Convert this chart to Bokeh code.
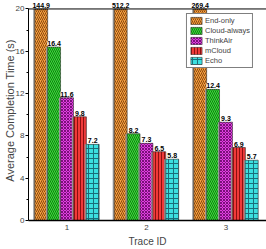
from bokeh.plotting import figure
from bokeh.models import (ColumnDataSource, FixedTicker, LabelSet, Legend, LegendItem,
                          Range1d, LinearAxis, Span)
from bokeh.transform import dodge
from bokeh.embed import file_html
from bokeh.resources import INLINE
from bokeh.core.properties import value

# ---- data ----
traces = [1, 2, 3]
trace_labels = ["1", "2", "3"]
series_names = ["End-only", "Cloud-always", "ThinkAir", "mCloud", "Echo"]
end_only = [144.9, 512.2, 269.4]
cloud_always = [16.4, 8.2, 12.4]
thinkair = [11.6, 7.3, 9.3]
mcloud = [9.8, 6.5, 6.9]
echo = [7.2, 5.8, 5.7]
y_ticks = [0, 4, 8, 12, 16, 20]
y_minor = [2, 6, 10, 14, 18]
y_max = 20

series_values = [end_only, cloud_always, thinkair, mcloud, echo]

# ---- styles ----
fills = ["#F7A040", "#3BE03B", "#E040E0", "#F03A3A", "#3CE0E0"]
hatch_colors = ["#8A4A10", "#127812", "#7A107A", "#8A1010", "#1A6E7A"]
hatches = ["/", "\\", "x", "|", "+"]
hatch_scales = [4, 4, 3, 3, 5]
bar_w = 0.162
FONT = "Liberation Sans"

p = figure(width=266, height=249, output_backend="svg", toolbar_location=None,
           x_range=Range1d(0.516, 3.51), y_range=Range1d(0, y_max * 1.04),
           min_border_left=0, min_border_right=0, min_border_top=0, min_border_bottom=0)

p.xgrid.visible = False
p.ygrid.visible = False
p.outline_line_color = None
p.background_fill_color = "white"
p.border_fill_color = "white"

items = []
for i, (name, vals) in enumerate(zip(series_names, series_values)):
    off = (i - 2) * bar_w
    clipped = [min(v, y_max) for v in vals]
    src = ColumnDataSource(dict(x=traces, top=clipped, ly=clipped,
                                txt=["%.1f" % v for v in vals]))
    # grey shadow edge
    p.vbar(x=dodge("x", off - 0.02, range=p.x_range), top="top", width=bar_w, source=src,
           fill_color="#9A9A9A", line_color=None)
    r = p.vbar(x=dodge("x", off, range=p.x_range), top="top", width=bar_w, source=src,
               fill_color=fills[i], line_color="#333333", line_width=0.6,
               hatch_pattern=hatches[i], hatch_color=hatch_colors[i],
               hatch_scale=hatch_scales[i], hatch_weight=1)
    items.append(LegendItem(label=name, renderers=[r]))
    lbl = LabelSet(x=dodge("x", off, range=p.x_range), y="ly", text="txt", source=src,
                   text_align="center", text_baseline="bottom", y_offset=1,
                   text_font=value(FONT), text_font_size="7px", text_font_style="bold",
                   text_color="black", background_fill_color="white")
    p.add_layout(lbl)

# frame: top line at y_max, right border
p.add_layout(Span(location=y_max, dimension="width", line_color="black", line_width=1))
right_axis = LinearAxis(bounds=(0, y_max), ticker=FixedTicker(ticks=[]),
                        major_label_text_font_size="0px", major_tick_out=0, minor_tick_out=0,
                        major_label_standoff=0, axis_line_color="black")
p.add_layout(right_axis, "right")

legend = Legend(items=items, location="top_right")
legend.label_text_font = FONT
legend.label_text_font_size = "7.5px"
legend.label_height = 8
legend.glyph_height = 9
legend.glyph_width = 14
legend.spacing = 1
legend.padding = 2
legend.margin = 13
legend.label_standoff = 2
legend.border_line_color = "black"
legend.border_line_width = 1
legend.background_fill_alpha = 1
p.add_layout(legend)

# axes
p.yaxis[0].ticker = FixedTicker(ticks=y_ticks, minor_ticks=y_minor)
yax = p.left[0]
yax.bounds = (0, y_max)
yax.axis_label = "Average Completion Time (s)"
yax.axis_label_text_font = FONT
yax.axis_label_text_font_size = "11px"
yax.axis_label_text_font_style = "normal"
yax.axis_label_standoff = -3
yax.major_label_text_font = FONT
yax.major_label_text_font_size = "8px"
yax.major_label_standoff = 1
yax.major_tick_in = 0
yax.major_tick_out = 3
yax.minor_tick_in = 0
yax.minor_tick_out = 2
yax.axis_line_color = "black"

p.xaxis.ticker = FixedTicker(ticks=traces)
p.xaxis.major_label_overrides = {t: s for t, s in zip(traces, trace_labels)}
p.xaxis.axis_label = "Trace ID"
p.xaxis.axis_label_text_font = FONT
p.xaxis.axis_label_text_font_size = "10px"
p.xaxis.axis_label_text_font_style = "normal"
p.xaxis.axis_label_standoff = 3
p.xaxis.major_label_text_font = FONT
p.xaxis.major_label_text_font_size = "8px"
p.xaxis.major_label_standoff = 4
p.xaxis.major_tick_in = 0
p.xaxis.major_tick_out = 0
p.xaxis.minor_tick_line_color = None
p.xaxis.axis_line_color = "black"
p.xaxis.axis_line_width = 1.5

open("out.html", "w").write(file_html(p, INLINE))
